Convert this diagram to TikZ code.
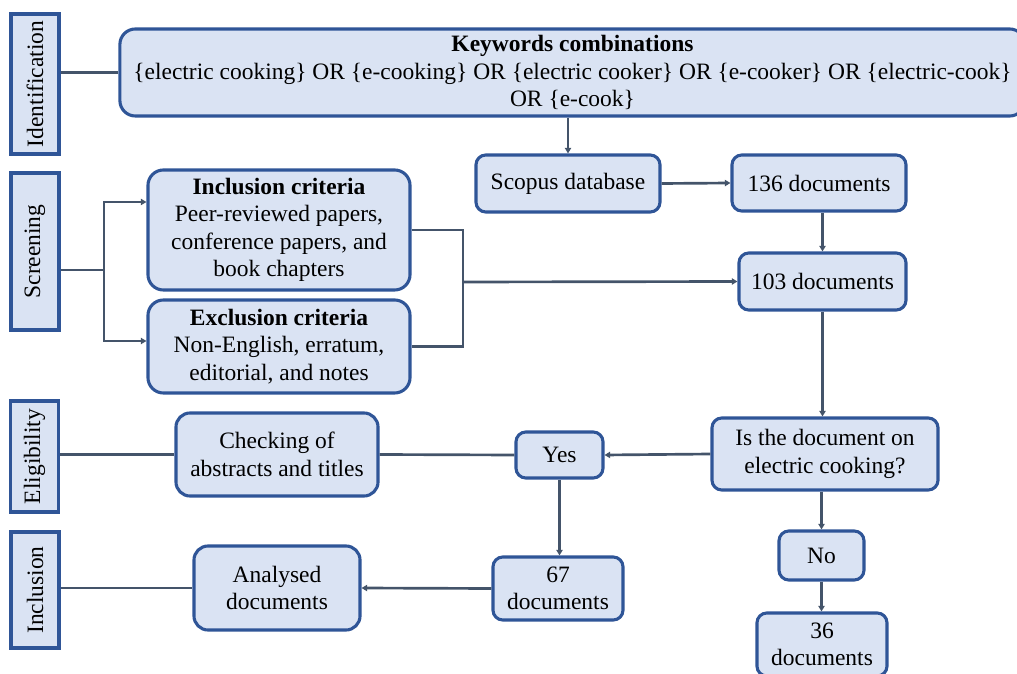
\documentclass[tikz,border=0pt]{standalone}
\usepackage{fontspec}
\setmainfont{Liberation Serif}
\usepackage{graphicx}
\usetikzlibrary{arrows.meta,positioning}
\definecolor{boxfill}{HTML}{DAE3F3}
\definecolor{boxedge}{HTML}{2F5597}
\definecolor{linkcol}{HTML}{44546A}

\begin{document}
\begin{tikzpicture}[x=0.025cm,y=-0.025cm,
                   box/.style={draw=boxedge,fill=boxfill,line width=2.2pt,rounded corners=7pt,align=center,inner sep=2pt,font=\fontsize{16.7}{19.5}\selectfont},
                   sidebox/.style={draw=boxedge,fill=boxfill,line width=2.5pt,inner sep=0pt,minimum width=1.2cm,font=\fontsize{16.7}{19.5}\selectfont},
                   link/.style={draw=linkcol,line width=1.9pt},
                   flow/.style={link,-{Triangle[length=4pt,width=4.5pt]}}]
\useasboundingbox (0,0) rectangle (1017,674);
\clip (0,0) rectangle (1017,674);

\node[sidebox,minimum height=3.5cm] (ident) at (35,84) {\rotatebox{90}{Identification}};
\node[sidebox,minimum height=3.925cm] (screen) at (35,251.5) {\rotatebox{90}{Screening}};
\node[sidebox,minimum height=2.775cm] (elig) at (34.5,456.5) {\rotatebox{90}{Eligibility}};
\node[sidebox,minimum height=2.9cm] (inclab) at (35,590) {\rotatebox{90}{Inclusion}};

\node[box,rounded corners=11pt,minimum width=22.625cm,minimum height=2.175cm] (kw) at (572.5,72.5)
  {\textbf{Keywords combinations}\\ \{electric cooking\} OR \{e-cooking\} OR \{electric cooker\} OR \{e-cooker\} OR \{electric-cook\}\\ OR \{e-cook\}};
\node[box,minimum width=4.6cm,minimum height=1.425cm] (scopus) at (568,183.5) {Scopus database};
\node[box,minimum width=4.35cm,minimum height=1.4cm] (n136) at (819,183) {136 documents};
\node[box,minimum width=4.175cm,minimum height=1.425cm] (n103) at (822.5,281.5) {103 documents};
\node[box,rounded corners=11pt,minimum width=6.55cm,minimum height=3cm] (incl) at (279,230)
  {\textbf{Inclusion criteria}\\ Peer-reviewed papers,\\ conference papers, and\\ book chapters};
\node[box,rounded corners=11pt,minimum width=6.55cm,minimum height=2.325cm] (excl) at (279,346.5)
  {\textbf{Exclusion criteria}\\ Non-English, erratum,\\ editorial, and notes};
\node[box,minimum width=5.65cm,minimum height=1.8cm] (dec) at (825,454) {Is the document on\\ electric cooking?};
\node[box,minimum width=2.175cm,minimum height=1.15cm] (yes) at (559.5,455) {Yes};
\node[box,rounded corners=10pt,minimum width=5.05cm,minimum height=2.075cm] (check) at (277,454.5) {Checking of\\ abstracts and titles};
\node[box,minimum width=3.25cm,minimum height=1.575cm] (n67) at (558,588.5) {67\\ documents};
\node[box,rounded corners=10pt,minimum width=4.15cm,minimum height=2.1cm] (anal) at (277,588) {Analysed\\ documents};
\node[box,minimum width=2.125cm,minimum height=1.225cm] (no) at (821.5,555.5) {No};
\node[box,minimum width=3.25cm,minimum height=1.575cm] (n36) at (822,644.5) {36\\ documents};

\coordinate (sj) at (104,270);
\coordinate (mj) at (463,282);

\draw[link] (ident.east |- kw.west) -- (kw.west);
\draw[flow] (kw.south -| scopus.north) -- (scopus.north);
\draw[flow] (scopus.east) -- (n136.west);
\draw[flow] (n136.south -| n103.north) -- (n103.north);
\draw[link] (screen.east |- sj) -- (sj);
\draw[flow] (sj) |- ([yshift=0.7cm]incl.west);
\draw[flow] (sj) |- ([yshift=0.1375cm]excl.west);
\draw[link] (incl.east) -| (mj) |- (excl.east);
\draw[flow] (mj) -- (n103.west);
\draw[flow] (n103.south) -- (n103.south |- dec.north);
\draw[flow] (dec.west) -- (yes.east);
\draw[link] (yes.west) -- (check.east);
\draw[link] (elig.east |- check.west) -- (check.west);
\draw[flow] (yes.south) -- (yes.south |- n67.north);
\draw[flow] (n67.west) -- (anal.east);
\draw[link] (inclab.east |- anal.west) -- (anal.west);
\draw[flow] (dec.south -| no.north) -- (no.north);
\draw[flow] (no.south) -- (no.south |- n36.north);
\end{tikzpicture}
\end{document}
